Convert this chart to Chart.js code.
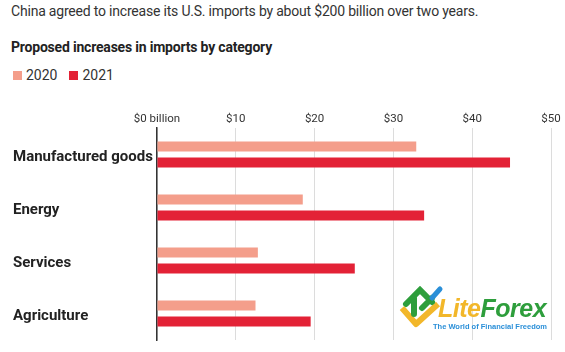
<!DOCTYPE html>
<html lang="en">
<head>
  <meta charset="UTF-8">
  <title>Proposed increases in imports by category</title>
  <script src="https://cdn.jsdelivr.net/npm/chart.js"></script>
  <style>
    body { margin:0; background:#fff; font-family:Roboto, Arial, sans-serif; width:565px; height:352px; overflow:hidden; position:relative; }
    .title { position:absolute; left:11px; top:3px; font-size:14px; color:#333; letter-spacing:-0.2px; }
    .sub { position:absolute; left:11px; top:39px; font-size:14px; font-weight:bold; color:#222; letter-spacing:-0.2px; }
    .legend { position:absolute; left:13px; top:67px; font-size:14px; color:#333; display:flex; gap:12px; }
    .legend span { display:flex; align-items:center; }
    .legend i { display:inline-block; width:9px; height:9px; margin-right:4px; }
    .wrap { position:absolute; left:0; top:100px; width:565px; height:252px; }
    .logo { position:absolute; left:398px; top:284px; width:150px; height:50px; }
    .logo .name { position:absolute; left:40px; top:10px; font-family:Arial, sans-serif; font-size:25px; font-weight:bold; font-style:italic; letter-spacing:-0.5px; }
    .logo .tag { position:absolute; left:35px; top:38px; font-family:Arial, sans-serif; font-size:7.5px; font-weight:bold; color:#2a8fd8; white-space:nowrap; }
  </style>
</head>
<body>
  <div class="title">China agreed to increase its U.S. imports by about $200 billion over two years.</div>
  <div class="sub">Proposed increases in imports by category</div>
  <div class="legend" id="legend"></div>
  <div class="wrap"><canvas id="chart"></canvas></div>
  <div class="logo">
    <svg width="46" height="48" viewBox="0 0 46 48" style="position:absolute;left:0;top:0">
      <path d="M4 24 L18 40 L40 20" stroke="#f2b72a" stroke-width="6" fill="none" stroke-linejoin="round"/>
      <path d="M8 20 L22 6 L34 18 M16 14 L16 30 M24 24 L34 14" stroke="#2e9e3c" stroke-width="6" fill="none" stroke-linecap="round"/>
      <path d="M34 14 L42 5" stroke="#2a8fd8" stroke-width="5" stroke-linecap="round"/>
    </svg>
    <div class="name"><span style="color:#f2b72a">Lite</span><span style="color:#2e9e3c">Forex</span></div>
    <div class="tag">The World of Financial Freedom</div>
  </div>
  <script>
    const categories = ["Manufactured goods", "Energy", "Services", "Agriculture"];
    const seriesNames = ["2020", "2021"];
    const values2020 = [32.9, 18.5, 12.8, 12.5];
    const values2021 = [44.8, 33.9, 25.1, 19.5];
    const tickLabels = ["$0 billion", "$10", "$20", "$30", "$40", "$50"];
    const colors = ["#f49e8b", "#e32236"];

    document.getElementById('legend').innerHTML = seriesNames.map((n,i)=>
      `<span><i style="background:${colors[i]}"></i>${n}</span>`).join('');

    new Chart(document.getElementById('chart').getContext('2d'), {
      type: 'bar',
      data: {
        labels: categories,
        datasets: [
          { label: seriesNames[0], data: values2020, backgroundColor: colors[0] },
          { label: seriesNames[1], data: values2021, backgroundColor: colors[1] }
        ]
      },
      options: {
        indexAxis: 'y',
        responsive: true,
        maintainAspectRatio: false,
        animation: false,
        categoryPercentage: 0.6,
        barPercentage: 0.625,
        layout: { padding: { left: 13, right: 14, top: 0, bottom: 9 } },
        plugins: { legend: { display: false }, tooltip: { enabled: false } },
        scales: {
          x: {
            position: 'top',
            min: 0, max: 50,
            afterFit: s => { s.height = 28; },
            grid: { color: '#dcdcdc', lineWidth: 1, drawTicks: false },
            border: { display: false },
            ticks: {
              stepSize: 10, padding: 2, color: '#333',
              font: { family: 'Roboto', size: 11.5 },
              callback: (v, i) => tickLabels[i]
            }
          },
          y: {
            afterFit: s => { s.width = 144; },
            grid: { display: false },
            border: { color: '#333', width: 1.5 },
            ticks: {
              crossAlign: 'far', color: '#222', labelOffset: 3,
              font: { family: 'Roboto', size: 15, weight: 'bold' }
            }
          }
        }
      }
    });
  </script>
</body>
</html>
